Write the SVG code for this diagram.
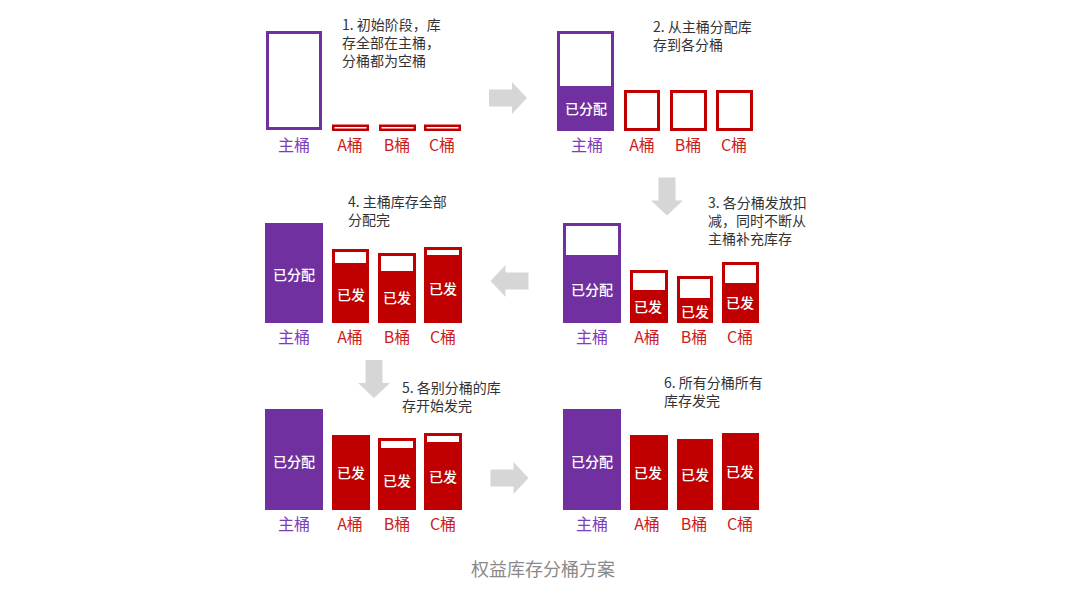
<svg xmlns="http://www.w3.org/2000/svg" xmlns:xlink="http://www.w3.org/1999/xlink" width="1080" height="597" viewBox="0 0 1080 597">
<defs>
<style>
.bg{fill:#ffffff}
.note{font-family:"Noto Sans CJK SC","Noto Sans",sans-serif;font-size:14px;fill:#333333}
.lblP{font-family:"Noto Sans CJK SC","Noto Sans",sans-serif;font-size:16px;fill:#7e3db8;text-anchor:middle}
.lblR{font-family:"Noto Sans CJK SC","Noto Sans",sans-serif;font-size:16px;fill:#cc1c1c;text-anchor:middle}
.in{font-family:"Noto Sans CJK SC","Noto Sans",sans-serif;font-size:14px;font-weight:500;fill:#ffffff;text-anchor:middle}
.cap{font-family:"Noto Sans CJK SC","Noto Sans",sans-serif;font-size:18px;fill:#8a8a8a;text-anchor:middle}
.pOut{fill:#ffffff;stroke:#7030a0;stroke-width:3}
.pFill{fill:#7030a0}
.rOut{fill:#ffffff;stroke:#c00000;stroke-width:3}
.rThin{fill:#ffffff;stroke:#c00000;stroke-width:2.5}
.rFill{fill:#c00000}
.wh{fill:#ffffff}
.arrow{fill:#d6d6d6}
</style>
<path id="arr" d="M-19,-8.5 H4 V-16 L19,0 L4,16 V8.5 H-19 Z"/>
</defs>
<rect class="bg" x="0" y="0" width="1080" height="597"/>

<g id="connectors">
<use xlink:href="#arr" class="arrow" transform="translate(508,98)"/>
<use xlink:href="#arr" class="arrow" transform="translate(667,196.5) rotate(90)"/>
<use xlink:href="#arr" class="arrow" transform="translate(509.5,281) rotate(180)"/>
<use xlink:href="#arr" class="arrow" transform="translate(374,379) rotate(90)"/>
<use xlink:href="#arr" class="arrow" transform="translate(509.5,478)"/>
</g>

<!-- Stage 1 -->
<g id="stage1">
<text class="note" x="342" y="30">1. 初始阶段，库</text>
<text class="note" x="342" y="48">存全部在主桶，</text>
<text class="note" x="342" y="66">分桶都为空桶</text>
<g id="s1-main"><rect class="pOut" x="267.5" y="32.5" width="53" height="96"/><text class="lblP" x="294" y="151">主桶</text></g>
<g id="s1-a"><rect class="rThin" x="333.25" y="125.75" width="34.5" height="4"/><text class="lblR" x="350" y="151">A桶</text></g>
<g id="s1-b"><rect class="rThin" x="380.25" y="125.75" width="34.5" height="4"/><text class="lblR" x="397" y="151">B桶</text></g>
<g id="s1-c"><rect class="rThin" x="425.25" y="125.75" width="34.5" height="4"/><text class="lblR" x="442" y="151">C桶</text></g>
</g>

<!-- Stage 2 -->
<g id="stage2">
<text class="note" x="653" y="32">2. 从主桶分配库</text>
<text class="note" x="653" y="50">存到各分桶</text>
<g id="s2-main"><rect class="pOut" x="558.5" y="32.5" width="54" height="97"/><rect class="pFill" x="557" y="86" width="57" height="45"/><text class="in" x="586" y="114">已分配</text><text class="lblP" x="587" y="151">主桶</text></g>
<g id="s2-a"><rect class="rOut" x="625.5" y="91.5" width="33" height="38"/><text class="lblR" x="642" y="151">A桶</text></g>
<g id="s2-b"><rect class="rOut" x="671.5" y="91.5" width="34" height="38"/><text class="lblR" x="688" y="151">B桶</text></g>
<g id="s2-c"><rect class="rOut" x="717.5" y="91.5" width="34" height="38"/><text class="lblR" x="734" y="151">C桶</text></g>
</g>

<!-- Stage 3 -->
<g id="stage3">
<text class="note" x="708" y="208">3. 各分桶发放扣</text>
<text class="note" x="708" y="226">减，同时不断从</text>
<text class="note" x="708" y="244">主桶补充库存</text>
<g id="s3-main"><rect class="pOut" x="564.5" y="224.5" width="55" height="97"/><rect class="pFill" x="563" y="255" width="58" height="68"/><text class="in" x="592" y="295">已分配</text><text class="lblP" x="592" y="343">主桶</text></g>
<g id="s3-a"><rect class="rFill" x="630" y="270" width="38" height="53"/><rect class="wh" x="633" y="273" width="32" height="17"/><text class="in" x="648" y="312">已发</text><text class="lblR" x="647" y="343">A桶</text></g>
<g id="s3-b"><rect class="rFill" x="677" y="276" width="36" height="47"/><rect class="wh" x="680" y="279" width="30" height="19"/><text class="in" x="695" y="317">已发</text><text class="lblR" x="694" y="343">B桶</text></g>
<g id="s3-c"><rect class="rFill" x="722" y="262" width="37" height="61"/><rect class="wh" x="725" y="265" width="31" height="18"/><text class="in" x="740" y="308">已发</text><text class="lblR" x="740" y="343">C桶</text></g>
</g>

<!-- Stage 4 -->
<g id="stage4">
<text class="note" x="348" y="207">4. 主桶库存全部</text>
<text class="note" x="348" y="225">分配完</text>
<g id="s4-main"><rect class="pFill" x="265" y="223" width="58" height="100"/><text class="in" x="294" y="280">已分配</text><text class="lblP" x="294" y="343">主桶</text></g>
<g id="s4-a"><rect class="rFill" x="332" y="249" width="37" height="74"/><rect class="wh" x="335" y="252" width="31" height="11"/><text class="in" x="351" y="300">已发</text><text class="lblR" x="350" y="343">A桶</text></g>
<g id="s4-b"><rect class="rFill" x="378" y="253" width="38" height="70"/><rect class="wh" x="381" y="256" width="32" height="15"/><text class="in" x="397" y="303">已发</text><text class="lblR" x="397" y="343">B桶</text></g>
<g id="s4-c"><rect class="rFill" x="424" y="247" width="38" height="76"/><rect class="wh" x="427" y="250" width="32" height="5"/><text class="in" x="443" y="294">已发</text><text class="lblR" x="443" y="343">C桶</text></g>
</g>

<!-- Stage 5 -->
<g id="stage5">
<text class="note" x="402" y="393">5. 各别分桶的库</text>
<text class="note" x="402" y="411">存开始发完</text>
<g id="s5-main"><rect class="pFill" x="265" y="409" width="58" height="101"/><text class="in" x="294" y="467">已分配</text><text class="lblP" x="294" y="530">主桶</text></g>
<g id="s5-a"><rect class="rFill" x="332" y="435" width="38" height="75"/><text class="in" x="351" y="478">已发</text><text class="lblR" x="350" y="530">A桶</text></g>
<g id="s5-b"><rect class="rFill" x="378" y="438" width="38" height="72"/><rect class="wh" x="381" y="441" width="32" height="7"/><text class="in" x="397" y="486">已发</text><text class="lblR" x="397" y="530">B桶</text></g>
<g id="s5-c"><rect class="rFill" x="424" y="433" width="38" height="77"/><rect class="wh" x="427" y="436" width="32" height="6"/><text class="in" x="443" y="482">已发</text><text class="lblR" x="443" y="530">C桶</text></g>
</g>

<!-- Stage 6 -->
<g id="stage6">
<text class="note" x="664" y="388">6. 所有分桶所有</text>
<text class="note" x="664" y="406">库存发完</text>
<g id="s6-main"><rect class="pFill" x="563" y="409" width="58" height="101"/><text class="in" x="592" y="467">已分配</text><text class="lblP" x="592" y="530">主桶</text></g>
<g id="s6-a"><rect class="rFill" x="630" y="435" width="38" height="75"/><text class="in" x="648" y="478">已发</text><text class="lblR" x="647" y="530">A桶</text></g>
<g id="s6-b"><rect class="rFill" x="677" y="439" width="36" height="71"/><text class="in" x="695" y="480">已发</text><text class="lblR" x="694" y="530">B桶</text></g>
<g id="s6-c"><rect class="rFill" x="722" y="433" width="37" height="77"/><text class="in" x="740" y="477">已发</text><text class="lblR" x="740" y="530">C桶</text></g>
</g>

<text class="cap" x="543" y="576">权益库存分桶方案</text>
</svg>
